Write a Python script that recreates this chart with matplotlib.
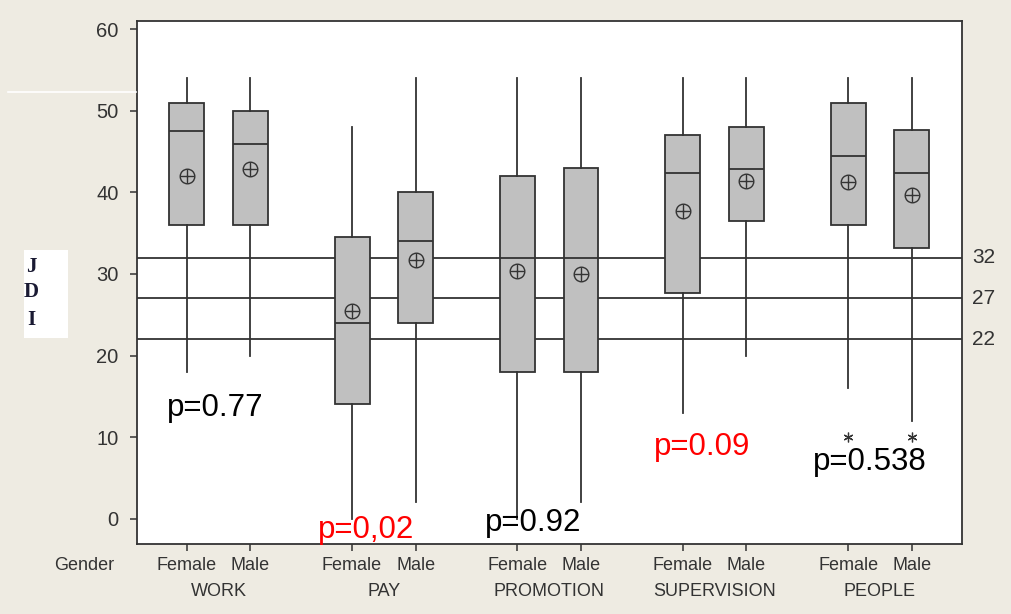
import matplotlib as mpl
import matplotlib.pyplot as plt
from matplotlib.lines import Line2D
from matplotlib.patches import Rectangle

mpl.rcParams["font.family"] = ["Liberation Sans", "DejaVu Sans"]

facets = ["WORK", "PAY", "PROMOTION", "SUPERVISION", "PEOPLE"]
genders = ["Female", "Male"]

# box summaries, per facet: Female then Male
whisker_lo = [18, 20, 0, 2, 0, 2, 13, 20, 16, 12]
q1 = [36, 36, 14, 24, 18, 18, 27.7, 36.5, 36, 33.2]
median = [47.5, 45.9, 24, 34, 32, 32, 42.4, 42.9, 44.5, 42.4]
q3 = [50.9, 50, 34.5, 40, 42, 43, 47, 48, 50.9, 47.7]
whisker_hi = [54, 54, 48, 54, 54, 54, 54, 54, 54, 54]
means = [42.0, 42.8, 25.5, 31.7, 30.4, 30.0, 37.7, 41.4, 41.3, 39.7]
outliers = [[], [], [], [], [], [], [], [], [10], [10]]

cutoffs = [32, 27, 22]
p_labels = ["p=0.77", "p=0,02", "p=0.92", "p=0.09", "p=0.538"]
p_colors = ["black", "red", "black", "red", "black"]
p_xy = [(-0.31, 12.6), (2.07, -2.4), (4.69, -1.5), (7.34, 7.8), (9.84, 5.95)]

W, H = 1011, 614
bg = "#eeebe2"
ink = "#333333"
lw = 1.3

fig = plt.figure(figsize=(W / 100, H / 100), dpi=100, facecolor=bg)
ax = fig.add_axes([136.7 / W, 1 - 544 / H, (962 - 136.7) / W, (544 - 21) / H])
ax.set_facecolor("white")

pos = [2.6 * g + j for g in range(len(facets)) for j in range(len(genders))]
stats = []
for i in range(len(pos)):
    stats.append(dict(med=median[i], q1=q1[i], q3=q3[i],
                      whislo=whisker_lo[i], whishi=whisker_hi[i],
                      fliers=outliers[i]))

# cut-off lines sit behind the boxes
for c in cutoffs:
    ax.axhline(c, color=ink, lw=lw, zorder=1)
    ax.text(1.012, c, str(c), transform=ax.get_yaxis_transform(),
            ha="left", va="center", fontsize=15, color=ink, clip_on=False)

ax.bxp(stats, positions=pos, widths=0.55, patch_artist=True, showcaps=False,
       boxprops=dict(facecolor="#c0c0c0", edgecolor=ink, linewidth=lw),
       medianprops=dict(color=ink, linewidth=lw),
       whiskerprops=dict(color=ink, linewidth=lw),
       flierprops=dict(marker=(6, 2, 0), markersize=7, markeredgecolor=ink,
                       markeredgewidth=0.9, linestyle="none"),
       zorder=2)

ax.plot(pos, means, "o", mfc="none", mec=ink, ms=10.5, mew=1.0, zorder=4)
ax.plot(pos, means, "+", color=ink, ms=10.5, mew=1.0, zorder=4)

ax.set_xlim(-0.785, 12.19)
ax.set_ylim(-3.1, 61)
ax.set_yticks(range(0, 61, 10))
ax.set_xticks(pos)
ax.set_xticklabels([])
ax.tick_params(axis="y", length=5, width=1.1, color=ink, pad=8,
               labelsize=14.5, labelcolor=ink)
ax.tick_params(axis="x", length=5, width=1.1, color=ink)
for s in ax.spines.values():
    s.set_color(ink)
    s.set_linewidth(lw)

# category labels under the axis
xt = ax.get_xaxis_transform()
for i, p in enumerate(pos):
    ax.text(p, (544 - 565) / 523, genders[i % 2], transform=xt, ha="center",
            va="center", fontsize=13, color=ink, clip_on=False)
for g, name in enumerate(facets):
    ax.text(2.6 * g + 0.5, (544 - 591.5) / 523, name, transform=xt,
            ha="center", va="center", fontsize=13, color=ink, clip_on=False)
fig.text(84.2 / W, 1 - 565 / H, "Gender", ha="center", va="center",
         fontsize=13, color=ink)

for lab, col, (x, y) in zip(p_labels, p_colors, p_xy):
    ax.text(x, y, lab, color=col, fontsize=22.5, ha="left", va="baseline",
            clip_on=False, zorder=5)

# JDI axis title in a white box
fig.patches.append(Rectangle((24 / W, 1 - 338 / H), 44 / W, 88 / H,
                             transform=fig.transFigure, facecolor="white",
                             edgecolor="none"))
for letter, py in zip("JDI", [266.5, 292, 320]):
    fig.text(31 / W, 1 - py / H, letter, ha="center", va="center",
             fontsize=15, fontweight="bold", color="#1a1a33",
             family=["Liberation Serif", "DejaVu Serif"])

fig.lines.append(Line2D([8 / W, 136 / W], [1 - 92 / H, 1 - 92 / H],
                        transform=fig.transFigure, color="white", lw=1.2))

fig.savefig("out.png", dpi=100, facecolor=bg)
